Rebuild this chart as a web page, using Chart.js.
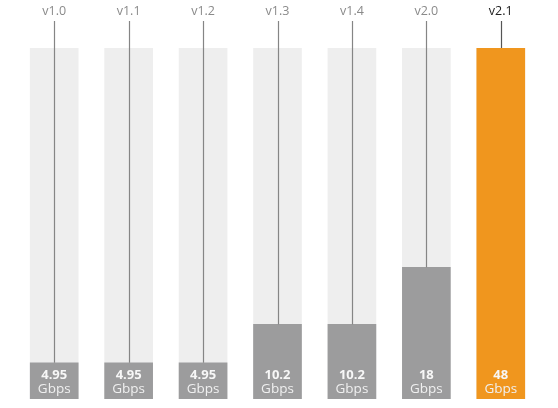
<!DOCTYPE html>
<html>
<head>
<meta charset="utf-8">
<script src="https://cdn.jsdelivr.net/npm/chart.js@4/dist/chart.umd.min.js"></script>
<style>
  html, body { margin: 0; padding: 0; background: #ffffff; }
  #wrap { width: 558px; height: 408px; position: relative; }
</style>
</head>
<body>
<div id="wrap"><canvas id="chart"></canvas></div>
<script>
// HDMI versions and their max bandwidth
const versions = ['v1.0', 'v1.1', 'v1.2', 'v1.3', 'v1.4', 'v2.0', 'v2.1'];
const bandwidth = [4.95, 4.95, 4.95, 10.2, 10.2, 18, 48];
const unitLabel = 'Gbps';
const scaleMax = 48;

const GREY = '#9c9c9d';
const ORANGE = '#f0961e';
const TRACK = '#eeeeee';
const isLatest = (i) => i === versions.length - 1;

// Vertical line from the label down to the top of each value bar,
// plus the value / unit text at the foot of the bar
const barDecor = {
  id: 'barDecor',
  afterDatasetsDraw(chart) {
    const ctx = chart.ctx;
    const meta = chart.getDatasetMeta(1);
    meta.data.forEach((bar, i) => {
      ctx.save();
      ctx.strokeStyle = isLatest(i) ? '#555555' : '#858585';
      ctx.lineWidth = 1.2;
      ctx.beginPath();
      ctx.moveTo(Math.round(bar.x) + 0.5, 21);
      ctx.lineTo(Math.round(bar.x) + 0.5, bar.y);
      ctx.stroke();

      ctx.textAlign = 'center';
      ctx.textBaseline = 'middle';
      ctx.fillStyle = '#f7f7f7';
      ctx.font = 'bold 13px "Open Sans", sans-serif';
      ctx.fillText(String(bandwidth[i]), bar.x, 375);
      ctx.fillStyle = '#f0f0f0';
      ctx.font = '13.5px "Open Sans", sans-serif';
      ctx.fillText(unitLabel, bar.x, 389);
      ctx.restore();
    });
  }
};

new Chart(document.getElementById('chart'), {
  type: 'bar',
  data: {
    labels: versions,
    datasets: [
      {
        label: 'track',
        data: versions.map(() => scaleMax),
        backgroundColor: TRACK,
        borderWidth: 0,
        barThickness: 48,
        grouped: false,
        order: 2
      },
      {
        label: 'Bandwidth',
        data: bandwidth,
        backgroundColor: bandwidth.map((v, i) => isLatest(i) ? ORANGE : GREY),
        borderWidth: 0,
        barThickness: 48,
        grouped: false,
        order: 1
      }
    ]
  },
  options: {
    responsive: true,
    maintainAspectRatio: false,
    animation: false,
    layout: { padding: { left: 17, right: 20, top: 4, bottom: 9 } },
    scales: {
      x: {
        position: 'top',
        grid: { display: false, drawTicks: false },
        border: { display: false },
        afterFit: (scale) => { scale.height = 44; },
        ticks: {
          padding: 29,
          color: (c) => isLatest(c.index) ? '#222222' : '#8a8a8a',
          font: { family: '"Open Sans", sans-serif', size: 12.5 }
        }
      },
      y: {
        display: false,
        min: 0,
        max: scaleMax
      }
    },
    plugins: {
      legend: { display: false },
      tooltip: { enabled: false }
    }
  },
  plugins: [barDecor]
});
</script>
</body>
</html>
